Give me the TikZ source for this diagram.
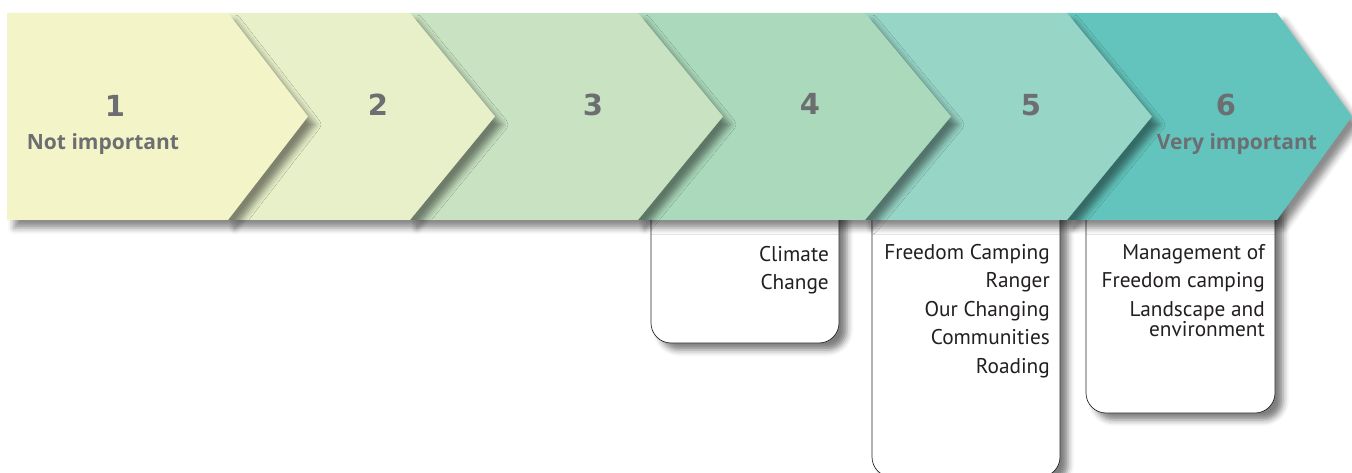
\documentclass[tikz,border=0pt]{standalone}
\usepackage{fontspec}
\setmainfont{PT Sans}
\newfontfamily\numfont{DejaVu Sans}
\newfontfamily\labelfont{Open Sans}
\usetikzlibrary{shadows.blur}

\definecolor{stepA}{HTML}{F3F5C8}
\definecolor{stepB}{HTML}{E8F0CA}
\definecolor{stepC}{HTML}{C9E3C2}
\definecolor{stepD}{HTML}{ABD9BB}
\definecolor{stepE}{HTML}{97D5C6}
\definecolor{stepF}{HTML}{62C4BC}
\definecolor{numgrey}{HTML}{6D6E71}
\definecolor{boxtext}{HTML}{231F20}

\begin{document}
\begin{tikzpicture}[
        x=1pt, y=-1pt,
        arrowshadow/.style={blur shadow={shadow xshift=7pt, shadow yshift=-8pt,
            shadow blur radius=6pt, shadow opacity=45}},
        topicbox/.style={draw=black!85, line width=0.7pt, fill=white, rounded corners=20pt,
            blur shadow={shadow xshift=8pt, shadow yshift=-7pt,
            shadow blur radius=6pt, shadow opacity=50}},
        number/.style={font=\numfont\bfseries\fontsize{29}{32}\selectfont, text=numgrey},
        scale label/.style={font=\labelfont\bfseries\fontsize{21}{24}\selectfont, text=numgrey},
        topics/.style={font=\fontsize{21.3}{28.5}\selectfont, text=boxtext, align=right,
            anchor=north east, inner sep=0pt}
      ]
      \useasboundingbox (0,0) rectangle (1352,473);

      % boxes sit under the arrows
      \draw[topicbox] (651,180) rectangle (839,343);
      \draw[topicbox] (872,180) rectangle (1060,477);
      \draw[topicbox] (1086,180) rectangle (1275,413);

      % arrows, last one first
      \foreach \l/\r/\t/\c in {1067/1277/1352/stepF, 865/1067/1152/stepE,
          638/865/951/stepD, 410/638/723/stepC, 228/410/495/stepB, 7/228/308/stepA}
        \fill[\c, arrowshadow] (\l,13) -- (\r,13) -- (\t,116.5) -- (\r,220) -- (\l,220) -- cycle;

      \node[number] (n1) at (115,106) {1};
      \node[scale label] (low) at (103,144) {Not important};
      \node[number] (n2) at (378,105) {2};
      \node[number] (n3) at (593,105) {3};
      \node[number] (n4) at (810,104) {4};
      \node[number] (n5) at (1031,105) {5};
      \node[number] (n6) at (1226,105) {6};
      \node[scale label] (high) at (1237,144) {Very important};

      \node[topics] (t4) at (829,246) {Climate\\Change};
      \node[topics] (t5) at (1050,244) {Freedom Camping\\Ranger\\Our Changing\\Communities\\Roading};
      \node[topics] (t6) at (1265,244) {Management of\\Freedom camping\\Landscape and\\[-8.5pt]environment};
\end{tikzpicture}
\end{document}
